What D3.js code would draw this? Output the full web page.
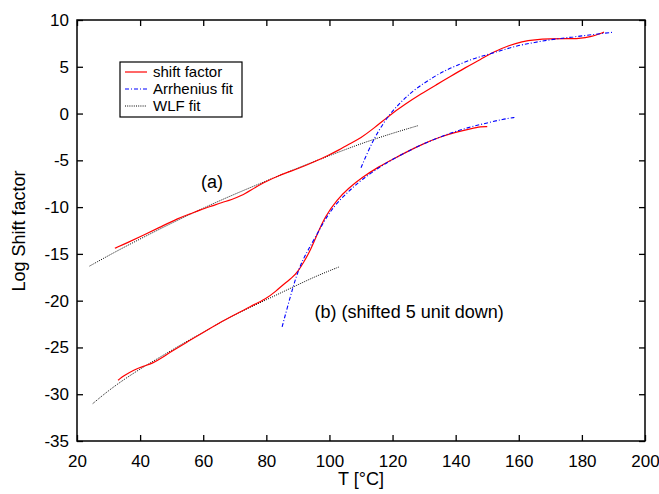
<!DOCTYPE html>
<html>
<head>
<meta charset="utf-8">
<script src="https://cdn.jsdelivr.net/npm/d3@7"></script>
<style>
  body { margin: 0; background: #fff; }
  svg text { font-family: "Liberation Sans", Arial, sans-serif; fill: #000; }
</style>
</head>
<body>
<svg id="chart"></svg>
<script>
// curve (a)
var shiftA_T = [32, 36, 41, 46, 52, 56, 59, 63, 66, 69, 72, 75, 79, 84, 90, 95, 100, 103, 106, 110, 114, 119, 124, 129, 134, 138, 143, 148, 152, 157, 161, 165, 170, 175, 179, 183, 187];
var shiftA_Y = [-14.4, -13.8, -13.0, -12.2, -11.2, -10.7, -10.3, -9.85, -9.5, -9.2, -8.8, -8.2, -7.4, -6.6, -5.9, -5.2, -4.4, -3.9, -3.3, -2.6, -1.6, -0.2, 1.0, 2.1, 3.1, 3.9, 4.9, 5.8, 6.6, 7.3, 7.7, 7.9, 8.0, 8.0, 8.0, 8.2, 8.7];

var arrhA_T = [110, 112, 114, 116, 119, 122, 125, 128, 132, 136, 140, 145, 150, 155, 160, 165, 170, 175, 180, 185, 190];
var arrhA_Y = [-5.8, -4.2, -2.8, -1.6, -0.1, 1.0, 2.0, 2.8, 3.7, 4.5, 5.1, 5.8, 6.3, 6.8, 7.3, 7.6, 7.9, 8.1, 8.3, 8.5, 8.7];

var wlfA_T = [24, 32, 40, 50, 60, 70, 80, 90, 100, 110, 120, 128];
var wlfA_Y = [-16.3, -14.8, -13.4, -11.7, -10.1, -8.6, -7.2, -5.8, -4.5, -3.2, -2.1, -1.3];

// curve (b), shifted 5 units down
var shiftB_T = [33, 35, 38, 41, 44, 47, 50, 55, 60, 65, 70, 75, 80, 83, 86, 88, 90, 92, 94, 96, 98.6, 102.4, 106, 110, 116, 120, 125, 130, 135, 140, 145, 148, 150];
var shiftB_Y = [-28.5, -28.0, -27.4, -27.0, -26.7, -26.1, -25.4, -24.4, -23.4, -22.4, -21.5, -20.6, -19.8, -19.0, -18.1, -17.6, -16.9, -15.8, -14.6, -13.0, -11.0, -9.2, -8.0, -6.9, -5.6, -4.9, -4.0, -3.2, -2.5, -2.0, -1.6, -1.4, -1.4];

var arrhB_T = [85, 86.6, 88.4, 90, 91.5, 93.2, 95.4, 98, 100, 103, 106.5, 110, 116, 120, 125, 130, 135, 140, 145, 150, 155, 159];
var arrhB_Y = [-22.8, -20.8, -18.6, -16.9, -15.7, -14.6, -13.3, -11.7, -10.6, -9.3, -8.2, -7.1, -5.7, -4.9, -4.0, -3.2, -2.5, -1.9, -1.4, -1.0, -0.6, -0.4];

var wlfB_T = [25, 30, 35, 40, 45, 50, 55, 60, 65, 70, 75, 80, 85, 90, 95, 100, 103];
var wlfB_Y = [-31.0, -29.6, -28.4, -27.3, -26.3, -25.3, -24.3, -23.4, -22.4, -21.5, -20.7, -19.9, -19.1, -18.3, -17.5, -16.8, -16.4];

var xTicks = [20, 40, 60, 80, 100, 120, 140, 160, 180, 200];
var yTicks = [10, 5, 0, -5, -10, -15, -20, -25, -30, -35];

var legendLabels = ["shift factor", "Arrhenius fit", "WLF fit"];

var width = 659, height = 494;
var padLeft = 77, padRight = 645, padTop = 20, padBottom = 441;

var svg = d3.select("#chart").attr("width", width).attr("height", height);

var x = d3.scaleLinear().domain([20, 200]).range([padLeft, padRight]);
var y = d3.scaleLinear().domain([-35, 10]).range([padBottom, padTop]);

function zip(ts, ys) {
  return ts.map(function(t, i) { return [t, ys[i]]; });
}

var line = d3.line()
  .x(function(d) { return x(d[0]); })
  .y(function(d) { return y(d[1]); })
  .curve(d3.curveBasis);

var styles = {
  shift: { stroke: "#ff0000", width: 1.2, dash: null },
  arrh: { stroke: "#0000ff", width: 1.1, dash: "4,2,1,2" },
  wlf: { stroke: "#000", width: 1, dash: "1,1.2" }
};

var series = [
  { pts: zip(wlfA_T, wlfA_Y), s: styles.wlf },
  { pts: zip(wlfB_T, wlfB_Y), s: styles.wlf },
  { pts: zip(shiftA_T, shiftA_Y), s: styles.shift },
  { pts: zip(shiftB_T, shiftB_Y), s: styles.shift },
  { pts: zip(arrhA_T, arrhA_Y), s: styles.arrh },
  { pts: zip(arrhB_T, arrhB_Y), s: styles.arrh }
];

svg.selectAll("path.curve")
    .data(series)
  .enter().append("path")
    .attr("class", "curve")
    .attr("d", function(d) { return line(d.pts); })
    .attr("fill", "none")
    .attr("stroke", function(d) { return d.s.stroke; })
    .attr("stroke-width", function(d) { return d.s.width; })
    .attr("stroke-dasharray", function(d) { return d.s.dash; });

// axes, ticks pointing inward on all four sides
var fs = 18, tickFs = 17;
var plain = function(d) { return String(d); };  // hyphen minus, like the original
var bottomAxis = d3.axisBottom(x).tickValues(xTicks).tickFormat(plain).tickSizeInner(-6).tickSizeOuter(0).tickPadding(14);
var topAxis = d3.axisTop(x).tickValues(xTicks).tickSizeInner(-6).tickSizeOuter(0).tickFormat("");
var leftAxis = d3.axisLeft(y).tickValues(yTicks).tickFormat(plain).tickSizeInner(-6).tickSizeOuter(0).tickPadding(8);
var rightAxis = d3.axisRight(y).tickValues(yTicks).tickSizeInner(-6).tickSizeOuter(0).tickFormat("");

function styleAxis(g) {
  g.selectAll("path").remove();
  g.selectAll("line").attr("stroke", "#000").attr("stroke-width", 1.3);
  g.selectAll("text").attr("font-size", tickFs).attr("font-family", "Liberation Sans, Arial, sans-serif").attr("fill", "#000");
}

svg.append("g").attr("transform", "translate(0," + padBottom + ")").call(bottomAxis).call(styleAxis);
svg.append("g").attr("transform", "translate(0," + padTop + ")").call(topAxis).call(styleAxis);
svg.append("g").attr("transform", "translate(" + padLeft + ",0)").call(leftAxis).call(styleAxis);
svg.append("g").attr("transform", "translate(" + padRight + ",0)").call(rightAxis).call(styleAxis);

svg.append("rect")
  .attr("x", padLeft).attr("y", padTop)
  .attr("width", padRight - padLeft).attr("height", padBottom - padTop)
  .attr("fill", "none").attr("stroke", "#000").attr("stroke-width", 1.5);

// axis titles
svg.append("text")
  .attr("x", 361).attr("y", 485)
  .attr("text-anchor", "middle").attr("font-size", fs)
  .text("T [°C]");

svg.append("text")
  .attr("transform", "translate(25,231) rotate(-90)")
  .attr("text-anchor", "middle").attr("font-size", fs)
  .text("Log Shift factor");

// annotations
svg.append("text").attr("x", x(62.8)).attr("y", y(-8.0)).attr("text-anchor", "middle")
  .attr("font-size", fs).text("(a)");
svg.append("text").attr("x", x(95.3)).attr("y", y(-21.9)).attr("font-size", fs)
  .text("(b) (shifted 5 unit down)");

// legend
var lg = svg.append("g").attr("transform", "translate(120,62)");
lg.append("rect").attr("width", 122).attr("height", 55)
  .attr("fill", "#fff").attr("stroke", "#000").attr("stroke-width", 1.2);
var legendStyles = [styles.shift, styles.arrh, styles.wlf];
var rows = lg.selectAll("g.row")
    .data(legendLabels)
  .enter().append("g")
    .attr("class", "row")
    .attr("transform", function(d, i) { return "translate(0," + (10 + i * 17) + ")"; });
rows.append("line")
  .attr("x1", 5).attr("x2", 27)
  .attr("stroke", function(d, i) { return legendStyles[i].stroke; })
  .attr("stroke-width", function(d, i) { return legendStyles[i].width; })
  .attr("stroke-dasharray", function(d, i) { return legendStyles[i].dash; });
rows.append("text")
  .attr("x", 33).attr("y", 5)
  .attr("font-size", 15)
  .text(function(d) { return d; });
</script>
</body>
</html>
